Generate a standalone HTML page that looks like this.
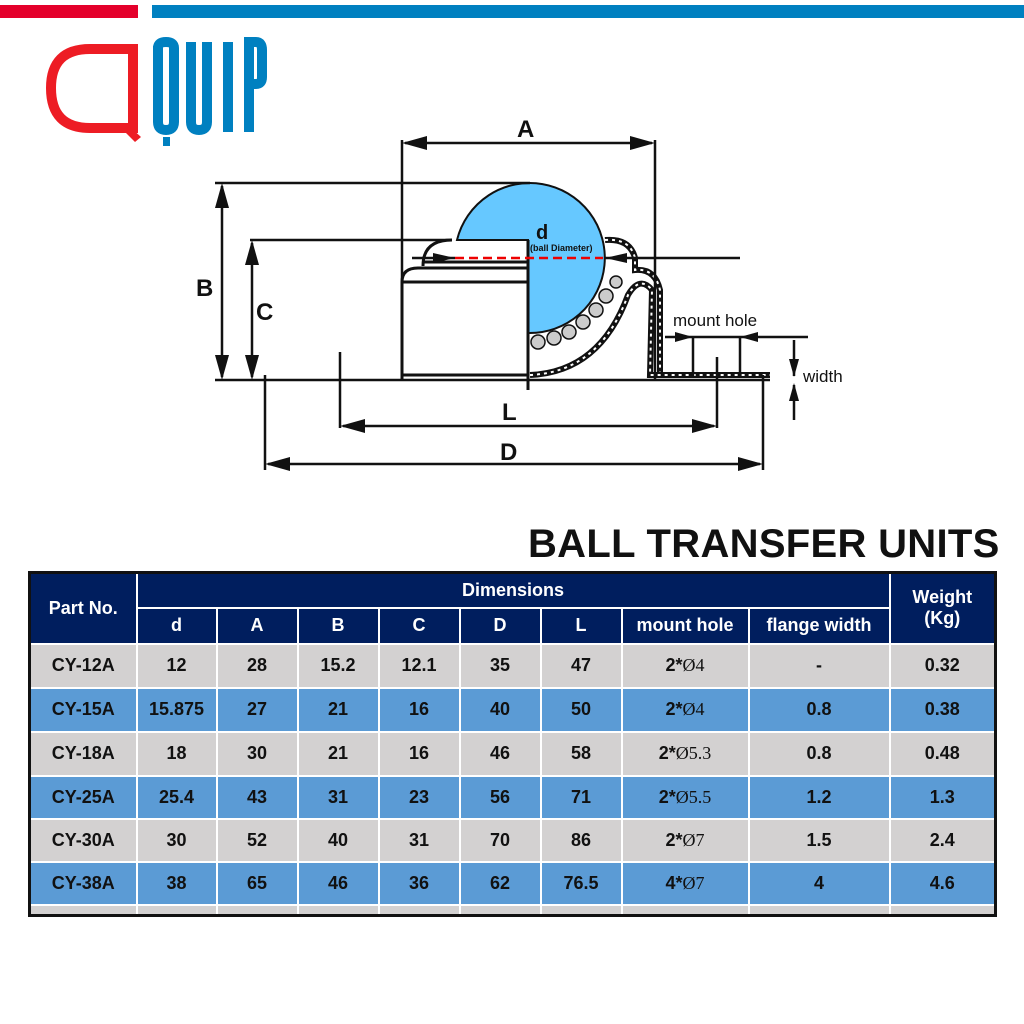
<!DOCTYPE html>
<html><head><meta charset="utf-8"><style>
body{margin:0;width:1024px;height:1024px;background:#fff;position:relative;overflow:hidden;font-family:"Liberation Sans",Arial,sans-serif}
.t{position:absolute;left:28px;top:571px;border-collapse:collapse;border:3px solid #111}
.t td{border:2px solid #fff;text-align:center;font-weight:bold;font-size:18px;padding:0;color:#111}
.h td{background:#001e5e;color:#fff}
.g td{background:#d3d1d1}
.b td{background:#5b9bd5}
.s{font-family:"Liberation Serif",serif;font-weight:normal !important;font-size:19px}
.s b{font-family:"Liberation Sans",sans-serif}
</style></head><body>
<div style="position:absolute;left:0;top:5px;width:138px;height:13px;background:#e4002b"></div>
<div style="position:absolute;left:152px;top:5px;width:872px;height:13px;background:#0080c0"></div>
<svg width="1024" height="520" style="position:absolute;left:0;top:0" viewBox="0 0 1024 520">
<path d="M133 49 H90 Q51 49 51 88 Q51 128 90 128 H133 Z" fill="none" stroke="#ed1c24" stroke-width="10"/>
<path d="M129 126 L141 137 L135 142 L124 131Z" fill="#ed1c24"/>
<g fill="none" stroke="#0080c0" stroke-width="10">
<path d="M158 46 V122 Q158 130 166 130 Q174 130 174 122 V48"/>
<path d="M158 48 Q158 42 166 42 Q174 42 174 48"/>
<path d="M191 42 V122 Q191 130 199 130 Q207 130 207 122 V42"/>
<path d="M228 42 V132"/>
<path d="M249 132 V42 H256 Q262 42 262 50 V77 Q262 84 256 84 H249"/>
</g>
<rect x="163" y="137" width="7" height="9" fill="#0080c0"/>
<path d="M528 240 L457 240 A75 75 0 1 1 528 333 Z" fill="#66c8ff" stroke="#111" stroke-width="2"/>
<line x1="528" y1="240" x2="528" y2="390" stroke="#111" stroke-width="3"/>
<g fill="none" stroke="#111" stroke-width="3">
<path d="M402 282 Q402 268 418 268 H528"/>
<path d="M423 266 Q423 240 452 240"/>
<line x1="402" y1="282" x2="528" y2="282"/>
<line x1="422" y1="262" x2="528" y2="262"/>
<line x1="402" y1="282" x2="402" y2="380"/>
<line x1="402" y1="375" x2="528" y2="375"/>
<path d="M530 375 Q600 372 628 295 Q640 275 652 290 L650 375 L770 375" stroke-width="6"/>
<path d="M605 240 Q630 238 635 258 L635 270 Q655 268 660 290 L660 372" stroke-width="6"/>
</g>
<g fill="none" stroke="#fff" stroke-width="2" stroke-dasharray="3 4">
<path d="M530 375 Q600 372 628 295 Q640 275 652 290 L650 375 L770 375"/>
<path d="M605 240 Q630 238 635 258 L635 270 Q655 268 660 290 L660 372"/>
</g>
<g fill="#ccc" stroke="#111" stroke-width="1.5">
<circle cx="538" cy="342" r="7"/><circle cx="554" cy="338" r="7"/><circle cx="569" cy="332" r="7"/><circle cx="583" cy="322" r="7"/><circle cx="596" cy="310" r="7"/><circle cx="606" cy="296" r="7"/><circle cx="616" cy="282" r="6"/>
</g>
<line x1="455" y1="258" x2="603" y2="258" stroke="#e00" stroke-width="2.5" stroke-dasharray="9 5"/>
<g stroke="#111" stroke-width="2.5" fill="none">
<line x1="402" y1="140" x2="402" y2="380"/><line x1="655" y1="140" x2="655" y2="380"/><line x1="405" y1="143" x2="652" y2="143"/>
<line x1="215" y1="183" x2="530" y2="183"/><line x1="222" y1="186" x2="222" y2="377"/>
<line x1="250" y1="240" x2="452" y2="240"/><line x1="252" y1="243" x2="252" y2="377"/>
<line x1="215" y1="380" x2="770" y2="380"/>
<line x1="412" y1="258" x2="455" y2="258"/><line x1="605" y1="258" x2="740" y2="258"/>
<line x1="265" y1="375" x2="265" y2="470"/><line x1="763" y1="375" x2="763" y2="470"/><line x1="268" y1="464" x2="760" y2="464"/>
<line x1="340" y1="352" x2="340" y2="428"/><line x1="717" y1="357" x2="717" y2="428"/><line x1="343" y1="426" x2="714" y2="426"/>
<line x1="665" y1="337" x2="808" y2="337"/><line x1="693" y1="337" x2="693" y2="376"/><line x1="740" y1="337" x2="740" y2="376"/>
<line x1="794" y1="340" x2="794" y2="376"/><line x1="794" y1="385" x2="794" y2="420"/>
</g>
<g fill="#111">
<path d="M402 143 l25 -7 v14z"/><path d="M655 143 l-25 -7 v14z"/>
<path d="M222 183 l-7 25 h14z"/><path d="M222 380 l-7 -25 h14z"/>
<path d="M252 240 l-7 25 h14z"/><path d="M252 380 l-7 -25 h14z"/>
<path d="M455 258 l-22 -5 v10z"/><path d="M605 258 l22 -5 v10z"/>
<path d="M265 464 l25 -7 v14z"/><path d="M763 464 l-25 -7 v14z"/>
<path d="M340 426 l25 -7 v14z"/><path d="M717 426 l-25 -7 v14z"/>
<path d="M693 337 l-18 -5 v10z"/><path d="M740 337 l18 -5 v10z"/>
<path d="M794 377 l-5 -18 h10z"/><path d="M794 383 l-5 18 h10z"/>
</g>
<g font-family="Liberation Sans,sans-serif" fill="#111" font-weight="bold">
<text x="517" y="137" font-size="24">A</text>
<text x="196" y="296" font-size="24">B</text>
<text x="256" y="320" font-size="24">C</text>
<text x="502" y="420" font-size="24">L</text>
<text x="500" y="460" font-size="24">D</text>
<text x="536" y="239" font-size="20">d</text>
<text x="530" y="251" font-size="9">(ball Diameter)</text>
<text x="673" y="326" font-size="17" font-weight="normal">mount hole</text>
<text x="803" y="382" font-size="17" font-weight="normal">width</text>
</g>
</svg>
<div style="position:absolute;left:528px;top:522px;font-size:40px;font-weight:bold;color:#111;letter-spacing:0.3px">BALL TRANSFER UNITS</div>
<table class="t">
<colgroup><col style="width:107px"><col style="width:80px"><col style="width:81px"><col style="width:81px"><col style="width:81px"><col style="width:81px"><col style="width:81px"><col style="width:127px"><col style="width:141px"><col style="width:106px"></colgroup>
<tr class="h" style="height:35px"><td rowspan="2">Part No.</td><td colspan="8">Dimensions</td><td rowspan="2">Weight<br>(Kg)</td></tr>
<tr class="h" style="height:36px"><td>d</td><td>A</td><td>B</td><td>C</td><td>D</td><td>L</td><td>mount hole</td><td>flange width</td></tr>
<tr class="g" style="height:44px"><td>CY-12A</td><td>12</td><td>28</td><td>15.2</td><td>12.1</td><td>35</td><td>47</td><td class="s"><b>2*</b>Ø4</td><td>-</td><td>0.32</td></tr>
<tr class="b" style="height:44px"><td>CY-15A</td><td>15.875</td><td>27</td><td>21</td><td>16</td><td>40</td><td>50</td><td class="s"><b>2*</b>Ø4</td><td>0.8</td><td>0.38</td></tr>
<tr class="g" style="height:44px"><td>CY-18A</td><td>18</td><td>30</td><td>21</td><td>16</td><td>46</td><td>58</td><td class="s"><b>2*</b>Ø5.3</td><td>0.8</td><td>0.48</td></tr>
<tr class="b" style="height:43px"><td>CY-25A</td><td>25.4</td><td>43</td><td>31</td><td>23</td><td>56</td><td>71</td><td class="s"><b>2*</b>Ø5.5</td><td>1.2</td><td>1.3</td></tr>
<tr class="g" style="height:43px"><td>CY-30A</td><td>30</td><td>52</td><td>40</td><td>31</td><td>70</td><td>86</td><td class="s"><b>2*</b>Ø7</td><td>1.5</td><td>2.4</td></tr>
<tr class="b" style="height:43px"><td>CY-38A</td><td>38</td><td>65</td><td>46</td><td>36</td><td>62</td><td>76.5</td><td class="s"><b>4*</b>Ø7</td><td>4</td><td>4.6</td></tr>
<tr class="g" style="height:11px"><td></td><td></td><td></td><td></td><td></td><td></td><td></td><td></td><td></td><td></td></tr>
</table>
</body></html>
